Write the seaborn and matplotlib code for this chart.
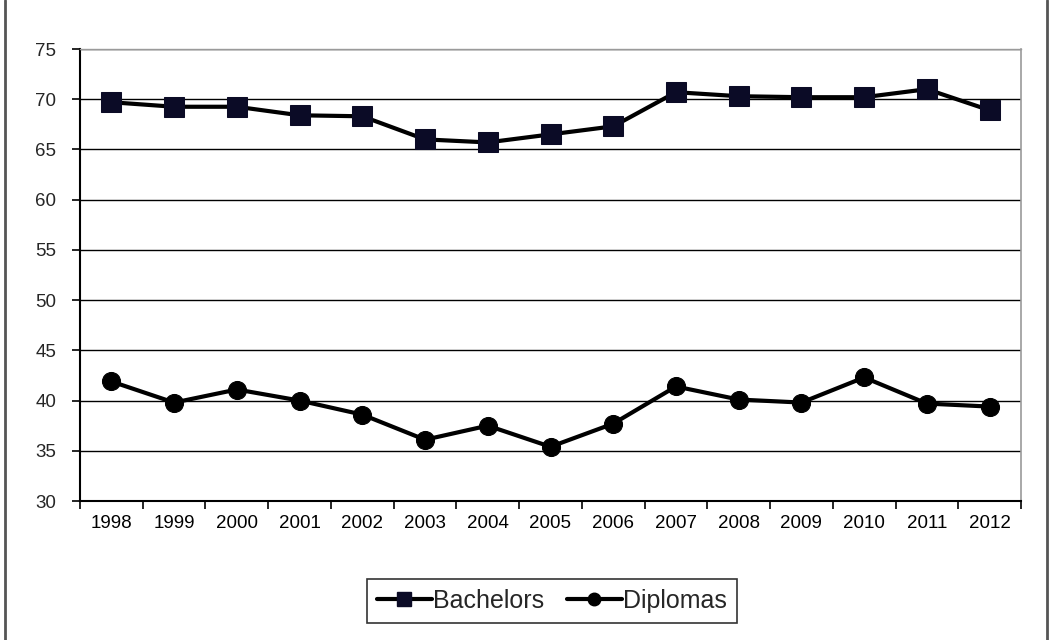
import numpy as np
import pandas as pd
import matplotlib
matplotlib.use("Agg")
import matplotlib.pyplot as plt
from matplotlib.lines import Line2D
import seaborn as sns

years = ["1998", "1999", "2000", "2001", "2002", "2003", "2004", "2005",
         "2006", "2007", "2008", "2009", "2010", "2011", "2012"]
bachelors = [69.7, 69.25, 69.25, 68.4, 68.3, 66.0, 65.7, 66.5,
             67.3, 70.7, 70.3, 70.2, 70.2, 71.0, 68.9]
diplomas = [41.9, 39.8, 41.1, 40.0, 38.6, 36.1, 37.5, 35.4,
            37.7, 41.4, 40.1, 39.8, 42.3, 39.7, 39.4]
y_ticks = [30, 35, 40, 45, 50, 55, 60, 65, 70, 75]

sns.set_theme(style="white")
plt.rcParams["font.family"] = ["Liberation Sans", "DejaVu Sans"]

pos = np.arange(len(years))
df = pd.concat([
    pd.DataFrame({"pos": pos, "value": bachelors, "series": "Bachelors"}),
    pd.DataFrame({"pos": pos, "value": diplomas, "series": "Diplomas"}),
])

fig = plt.figure(figsize=(10.49, 6.40), dpi=100)
# side frame lines of the chart area
for xf in (5 / 1049, 1046.5 / 1049):
    fig.add_artist(Line2D([xf, xf], [0, 1], transform=fig.transFigure,
                          color="#555555", lw=2.0))

ax = fig.add_axes([80 / 1049, 1 - 501 / 640, (1021 - 80) / 1049, (501 - 49) / 640])

# gridlines behind the series
for v in y_ticks[1:]:
    ax.axhline(v, color="black", lw=1.0, zorder=1)

sns.lineplot(data=df, x="pos", y="value", hue="series", style="series",
             markers={"Bachelors": "s", "Diplomas": "o"}, dashes=False,
             palette={"Bachelors": "black", "Diplomas": "black"},
             linewidth=3, markersize=14, ax=ax, legend=False, zorder=3)
lines = ax.get_lines()[-2:]
lines[0].set_markerfacecolor("#0b0b26")
lines[0].set_markeredgecolor("#0b0b26")
lines[0].set_markersize(15)
lines[1].set_markerfacecolor("black")
lines[1].set_markeredgecolor("black")
lines[1].set_markersize(13)

ax.set_xlim(-0.5, len(years) - 0.5)
ax.set_ylim(30, 75)
ax.set_yticks(y_ticks)
ax.set_yticklabels([str(v) for v in y_ticks], fontsize=13.5)
ax.set_xticks(pos)
ax.set_xticklabels(years, fontsize=13.5)
ax.set_xticks(np.arange(-0.5, len(years)), minor=True)
ax.tick_params(axis="x", which="major", length=0, pad=10, colors="black")
ax.tick_params(axis="x", which="minor", length=6, width=1.2, color="black", bottom=True)
ax.tick_params(axis="y", which="major", length=6, width=1.2, color="black",
               left=True, pad=11)
ax.set_xlabel("")
ax.set_ylabel("")

for side in ["left", "bottom"]:
    ax.spines[side].set_color("black")
    ax.spines[side].set_linewidth(1.5)
ax.spines["right"].set_color("#9a9a9a")
ax.spines["right"].set_linewidth(1.2)
ax.spines["top"].set_color("#9a9a9a")
ax.spines["top"].set_linewidth(1.0)

handles = [
    Line2D([], [], color="black", lw=3, marker="s", markersize=9.5,
           markerfacecolor="#0b0b26", markeredgecolor="#0b0b26"),
    Line2D([], [], color="black", lw=3, marker="o", markersize=9,
           markerfacecolor="black", markeredgecolor="black"),
]
leg = fig.legend(handles, ["Bachelors", "Diplomas"], loc="center",
                 bbox_to_anchor=(552 / 1049, 1 - 601 / 640), ncol=2,
                 fontsize=18, frameon=True, fancybox=False, handlelength=2.2,
                 handletextpad=0.05, columnspacing=0.9, borderpad=0.4,
                 borderaxespad=0)
leg.get_frame().set_edgecolor("black")
leg.get_frame().set_linewidth(1.2)

fig.savefig("out.png", dpi=100)
